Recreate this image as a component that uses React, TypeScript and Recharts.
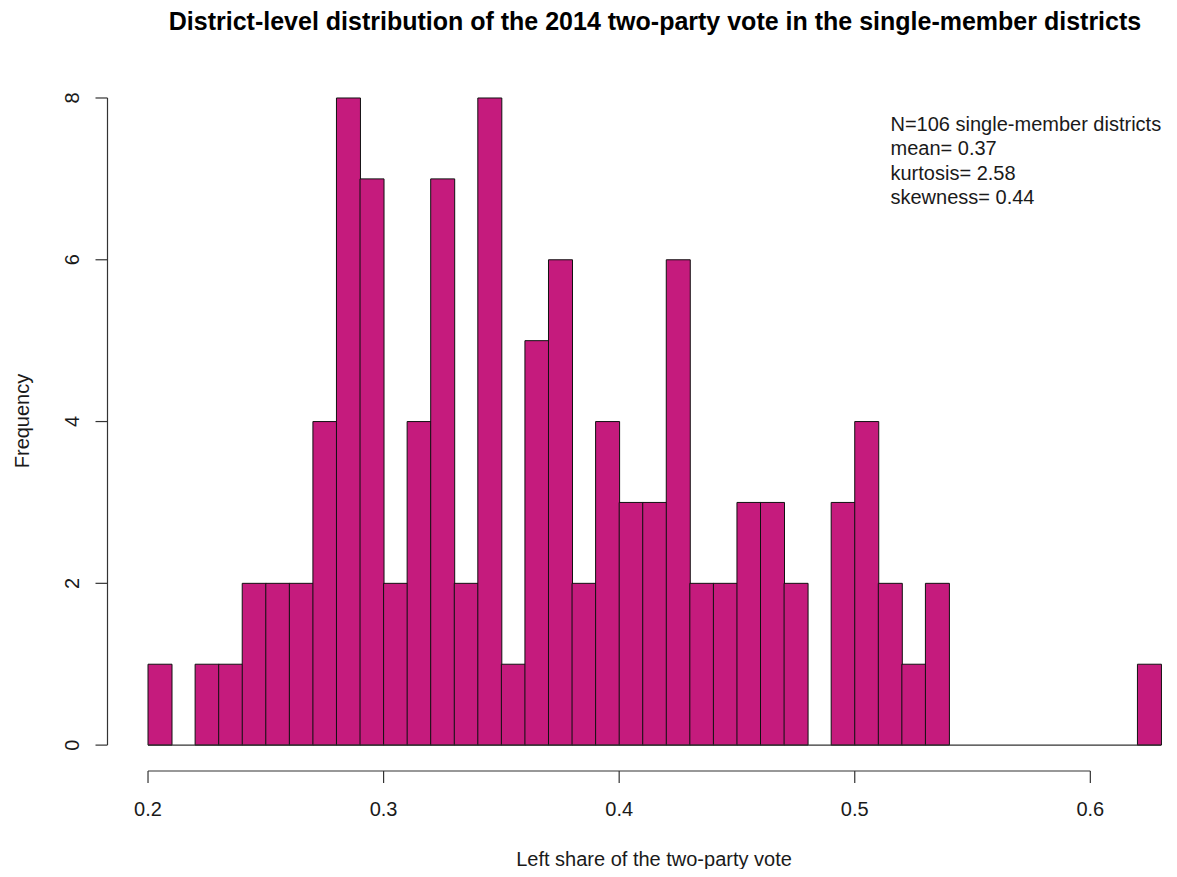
import React from 'react';
import { ComposedChart, Bar, XAxis, YAxis, ReferenceLine } from 'recharts';

// Histogram bins (lower edge of each 0.01-wide bin) and district counts
const binLowerEdges = [
  '0.20', '0.21', '0.22', '0.23', '0.24', '0.25', '0.26', '0.27', '0.28', '0.29',
  '0.30', '0.31', '0.32', '0.33', '0.34', '0.35', '0.36', '0.37', '0.38', '0.39',
  '0.40', '0.41', '0.42', '0.43', '0.44', '0.45', '0.46', '0.47', '0.48', '0.49',
  '0.50', '0.51', '0.52', '0.53', '0.54', '0.55', '0.56', '0.57', '0.58', '0.59',
  '0.60', '0.61', '0.62',
];
const binCounts = [
  1, 0, 1, 1, 2, 2, 2, 4, 8, 7,
  2, 4, 7, 2, 8, 1, 5, 6, 2, 4,
  3, 3, 6, 2, 2, 3, 3, 2, 0, 3,
  4, 2, 1, 2, 0, 0, 0, 0, 0, 0,
  0, 0, 1,
];

const xTicks = [0.2, 0.3, 0.4, 0.5, 0.6];
const yTicks = [0, 2, 4, 6, 8];

const titleText = 'District-level distribution of the 2014 two-party vote in the single-member districts';
const xLabel = 'Left share of the two-party vote';
const yLabel = 'Frequency';
const statsLines = [
  'N=106 single-member districts',
  'mean= 0.37',
  'kurtosis= 2.58',
  'skewness= 0.44',
];

const data = binLowerEdges.map((bin, i) => ({ bin, lo: Number(bin), count: binCounts[i] }));

const FONT = '"Liberation Sans", Arial, sans-serif';
const FILL = '#C51B7D';
const INK = '#1a1a1a';
const AXIS = '#333';

const W = 1161;
const H = 861;

// x-range shown: bins span 0.20–0.63, axis extended 4% to the left
const X_MIN = 0.1828;
const X_MAX = 0.63;
const Y_MIN = -0.32;
const Y_MAX = 8.32;

const XTick = (props: any) => {
  const { x, y, payload } = props;
  return (
    <text x={x} y={y + 15} textAnchor="middle" fontSize={20} fontFamily={FONT} fill={INK}>
      {String(payload.value)}
    </text>
  );
};

const YTick = (props: any) => {
  const { x, y, payload } = props;
  const bx = x - 16.5;
  return (
    <text
      x={bx}
      y={y}
      transform={`rotate(-90, ${bx}, ${y})`}
      textAnchor="middle"
      fontSize={20}
      fontFamily={FONT}
      fill={INK}
    >
      {String(payload.value)}
    </text>
  );
};

export default function App() {
  return (
    <div style={{ position: 'relative', width: W, height: H, background: '#fff' }}>
      <ComposedChart
        width={W}
        height={H}
        data={data}
        barCategoryGap={0}
        barGap={0}
        margin={{ top: 64.1, right: 8, left: 39.5, bottom: 38 }}
      >
        <XAxis
          xAxisId="val"
          dataKey="lo"
          type="number"
          scale="linear"
          domain={[X_MIN, X_MAX]}
          allowDataOverflow
          ticks={xTicks}
          interval={0}
          axisLine={false}
          tickSize={12}
          tickMargin={18}
          tickLine={{ stroke: AXIS, strokeWidth: 1.2 }}
          tick={<XTick />}
          height={60}
        />
        <XAxis
          xAxisId="bins"
          dataKey="bin"
          type="category"
          hide
          height={0}
          padding={{ left: 40.5, right: 0 }}
        />
        <YAxis
          type="number"
          domain={[Y_MIN, Y_MAX]}
          allowDataOverflow
          ticks={yTicks}
          interval={0}
          axisLine={false}
          tickSize={12}
          tickMargin={0}
          tickLine={{ stroke: AXIS, strokeWidth: 1.2 }}
          tick={<YTick />}
          width={60}
        />
        <ReferenceLine
          xAxisId="val"
          segment={[{ x: 0.2, y: 0 }, { x: 0.63, y: 0 }]}
          stroke={AXIS}
          strokeWidth={1.2}
          ifOverflow="visible"
        />
        <Bar
          xAxisId="bins"
          dataKey="count"
          fill={FILL}
          stroke="#111"
          strokeWidth={1}
          isAnimationActive={false}
        />
        <ReferenceLine
          xAxisId="val"
          segment={[{ x: 0.2, y: Y_MIN }, { x: 0.6, y: Y_MIN }]}
          stroke={AXIS}
          strokeWidth={1.2}
          ifOverflow="visible"
        />
        <ReferenceLine
          xAxisId="val"
          segment={[{ x: X_MIN, y: 0 }, { x: X_MIN, y: 8 }]}
          stroke={AXIS}
          strokeWidth={1.2}
          ifOverflow="visible"
        />
      </ComposedChart>
      <svg
        width={W}
        height={H}
        style={{ position: 'absolute', left: 0, top: 0, pointerEvents: 'none' }}
      >
        <text x={647} y={22} textAnchor="middle" fontSize={25} fontWeight="bold" fontFamily={FONT} fill="#000">
          {titleText}
        </text>
        <text x={646} y={858} textAnchor="middle" fontSize={20} fontFamily={FONT} fill={INK}>
          {xLabel}
        </text>
        <text
          x={20.5}
          y={413}
          transform="rotate(-90, 20.5, 413)"
          textAnchor="middle"
          fontSize={20}
          fontFamily={FONT}
          fill={INK}
        >
          {yLabel}
        </text>
        {statsLines.map((line, i) => (
          <text key={i} x={882.5} y={122.7 + i * 24.4} fontSize={20} fontFamily={FONT} fill={INK}>
            {line}
          </text>
        ))}
      </svg>
    </div>
  );
}
